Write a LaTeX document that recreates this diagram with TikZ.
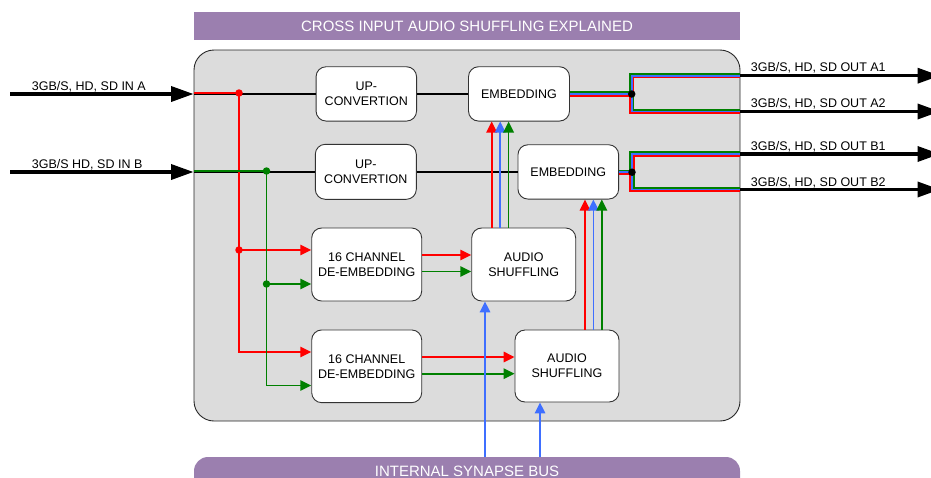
\documentclass[tikz,border=0pt]{standalone}
\usepackage{fontspec}
\setmainfont{Liberation Sans}
\usetikzlibrary{arrows.meta}
\definecolor{barpurple}{HTML}{9B7FAF}
\definecolor{framegray}{HTML}{DCDCDC}
\definecolor{sigred}{HTML}{FF0000}
\definecolor{sigblue}{HTML}{3F6FFF}
\definecolor{siggreen}{HTML}{008000}
\begin{document}
\begin{tikzpicture}[x=1pt,y=-1pt,
  blk/.style={draw=black!80, line width=0.9pt, fill=white, rounded corners=10pt, align=center, inner sep=0pt, font=\fontsize{12.5}{15}\selectfont},
  lbl/.style={inner sep=0pt, anchor=base west, font=\fontsize{12.5}{15}\selectfont},
  bigarrow/.style={line width=3.5pt, black, -{Triangle[length=22.5pt,width=15pt]}},
  sig/.style={line width=1.7pt},
  sigtip/.style={-{Triangle[length=11pt,width=10.5pt]}},
  blkline/.style={line width=1.4pt, black},
  jdot/.style={circle, inner sep=0pt, minimum size=7.5pt},
]
\useasboundingbox (0,0) rectangle (931,477);
% title and frames
\node[fill=barpurple, minimum width=546pt, minimum height=28pt, inner sep=0pt, text=white, font=\fontsize{15}{18}\selectfont] (title) at (467,26) {CROSS INPUT AUDIO SHUFFLING EXPLAINED};
\node[draw=black!85, line width=0.9pt, fill=framegray, rounded corners=20pt, minimum width=546pt, minimum height=371pt, inner sep=0pt] (frame) at (467,235.5) {};
\node[fill=barpurple, rounded corners=14pt, minimum width=546pt, minimum height=40pt, inner sep=0pt] (bus) at (467,477) {};
\node[inner sep=0pt, anchor=base, text=white, font=\fontsize{15}{18}\selectfont] (bustxt) at (467,476) {INTERNAL SYNAPSE BUS};

% boxes
\node[blk, minimum width=100.5pt, minimum height=54.3pt] (upA) at (366.3,93.9) {UP-\\CONVERTION};
\node[blk, minimum width=101pt, minimum height=55pt] (upB) at (365.8,171.8) {UP-\\CONVERTION};
\node[blk, minimum width=101pt, minimum height=54.3pt] (embA) at (519,93.9) {EMBEDDING};
\node[blk, minimum width=100.7pt, minimum height=54.3pt] (embB) at (568.3,171.9) {EMBEDDING};
\node[blk, minimum width=110pt, minimum height=73pt] (demA) at (366.7,264.5) {16 CHANNEL\\DE-EMBEDDING};
\node[blk, minimum width=104pt, minimum height=73pt] (shA) at (523.7,264.5) {AUDIO\\SHUFFLING};
\node[blk, minimum width=110pt, minimum height=72.7pt] (demB) at (366.7,366.3) {16 CHANNEL\\DE-EMBEDDING};
\node[blk, minimum width=104pt, minimum height=72pt] (shB) at (567,366) {AUDIO\\SHUFFLING};

% inputs
\coordinate (srcA) at (10,94);
\coordinate (srcB) at (10,172);
\draw[bigarrow] (srcA) -- (srcA -| frame.west);
\draw[bigarrow] (srcB) -- (srcB -| frame.west);
\node[lbl] (lblA) at (31.7,90.3) {3GB/S, HD, SD IN A};
\node[lbl] (lblB) at (31.7,168.3) {3GB/S HD, SD IN B};

% black video paths
\draw[blkline] (frame.west |- srcA) -- (upA.west |- srcA);
\draw[blkline] (upA.east |- srcA) -- (embA.west |- srcA);
\draw[blkline] (frame.west |- srcB) -- (upB.west |- srcB);
\draw[blkline] (upB.east |- srcB) -- (embB.west |- srcB);

% junction dots (positions)
\coordinate (rd1c) at (239,93);
\coordinate (rd2c) at (239,250);
\coordinate (gd1c) at (266.5,171);
\coordinate (gd2c) at (266.5,284);

% red audio A
\draw[sig, sigred] (frame.west |- rd1c) -- (rd1c);
\draw[sig, sigred, sigtip] (rd1c) -- (rd1c |- 0,352) -- (demB.west |- 0,352);
\draw[sig, sigred, sigtip] (rd2c) -- (demA.west |- rd2c);
% green audio B
\draw[sig, siggreen] (frame.west |- gd1c) -- (gd1c);
\draw[sig, siggreen, sigtip] (gd1c) -- (gd1c |- 0,385.5) -- (demB.west |- 0,385.5);
\draw[sig, siggreen, sigtip] (gd2c) -- (demA.west |- gd2c);

\node[jdot, fill=sigred] (rd1) at (rd1c) {};
\node[jdot, fill=sigred] (rd2) at (rd2c) {};
\node[jdot, fill=siggreen] (gd1) at (gd1c) {};
\node[jdot, fill=siggreen] (gd2) at (gd2c) {};

% de-embedding to shuffling
\draw[sig, sigred, sigtip] (demA.east |- 0,255) -- (shA.west |- 0,255);
\draw[sig, siggreen, sigtip] (demA.east |- 0,271.5) -- (shA.west |- 0,271.5);
\draw[sig, sigred, sigtip] (demB.east |- 0,357) -- (shB.west |- 0,357);
\draw[sig, siggreen, sigtip] (demB.east |- 0,373.7) -- (shB.west |- 0,373.7);

% shuffling to embedding
\draw[sig, sigred, sigtip] (shA.north -| 491.7,0) -- (embA.south -| 491.7,0);
\draw[sig, sigblue, sigtip] (shA.north -| 500.2,0) -- (embA.south -| 500.2,0);
\draw[sig, siggreen, sigtip] (shA.north -| 508.6,0) -- (embA.south -| 508.6,0);
\draw[sig, sigred, sigtip] (shB.north -| 585,0) -- (embB.south -| 585,0);
\draw[sig, sigblue, sigtip] (shB.north -| 593.4,0) -- (embB.south -| 593.4,0);
\draw[sig, siggreen, sigtip] (shB.north -| 601.8,0) -- (embB.south -| 601.8,0);

% bus
\draw[sig, sigblue, sigtip] (bus.north -| 485,0) -- (shA.south -| 485,0);
\draw[sig, sigblue, sigtip] (bus.north -| 540,0) -- (shB.south -| 540,0);

% output bundle A
\draw[sig, siggreen] (embA.east |- 0,92.3) -- (630,92.3) -- (630,74) -- (frame.east |- 0,74);
\draw[sig, siggreen] (embA.east |- 0,92.3) -- (633.4,92.3) -- (633.4,109.8) -- (frame.east |- 0,109.8);
\draw[sig, sigblue] (embA.east |- 0,94) -- (631.7,94) -- (631.7,75.7) -- (frame.east |- 0,75.7);
\draw[sig, sigblue] (embA.east |- 0,94) -- (631.7,94) -- (631.7,111.5) -- (frame.east |- 0,111.5);
\draw[sig, sigred] (embA.east |- 0,95.7) -- (633.4,95.7) -- (633.4,77.4) -- (frame.east |- 0,77.4);
\draw[sig, sigred] (embA.east |- 0,95.7) -- (630,95.7) -- (630,113.2) -- (frame.east |- 0,113.2);
\node[jdot, fill=black] (jA) at (631.7,94) {};
% output bundle B
\draw[sig, siggreen] (embB.east |- 0,170.5) -- (630.3,170.5) -- (630.3,152.3) -- (frame.east |- 0,152.3);
\draw[sig, siggreen] (embB.east |- 0,170.5) -- (633.7,170.5) -- (633.7,187.8) -- (frame.east |- 0,187.8);
\draw[sig, sigblue] (embB.east |- 0,172.2) -- (632,172.2) -- (632,154) -- (frame.east |- 0,154);
\draw[sig, sigblue] (embB.east |- 0,172.2) -- (632,172.2) -- (632,189.5) -- (frame.east |- 0,189.5);
\draw[sig, sigred] (embB.east |- 0,173.9) -- (633.7,173.9) -- (633.7,155.7) -- (frame.east |- 0,155.7);
\draw[sig, sigred] (embB.east |- 0,173.9) -- (630.3,173.9) -- (630.3,191.2) -- (frame.east |- 0,191.2);
\node[jdot, fill=black] (jB) at (632,172.2) {};

% outputs
\coordinate (dstA1) at (940,75.7);
\coordinate (dstA2) at (940,111.5);
\coordinate (dstB1) at (940,154);
\coordinate (dstB2) at (940,189.5);
\draw[bigarrow] (frame.east |- dstA1) -- (dstA1);
\draw[bigarrow] (frame.east |- dstA2) -- (dstA2);
\draw[bigarrow] (frame.east |- dstB1) -- (dstB1);
\draw[bigarrow] (frame.east |- dstB2) -- (dstB2);
\node[lbl] (lblA1) at (750.7,71.7) {3GB/S, HD, SD OUT A1};
\node[lbl] (lblA2) at (750.7,107.7) {3GB/S, HD, SD OUT A2};
\node[lbl] (lblB1) at (750.7,150) {3GB/S, HD, SD OUT B1};
\node[lbl] (lblB2) at (750.7,186.7) {3GB/S, HD, SD OUT B2};
\end{tikzpicture}
\end{document}
